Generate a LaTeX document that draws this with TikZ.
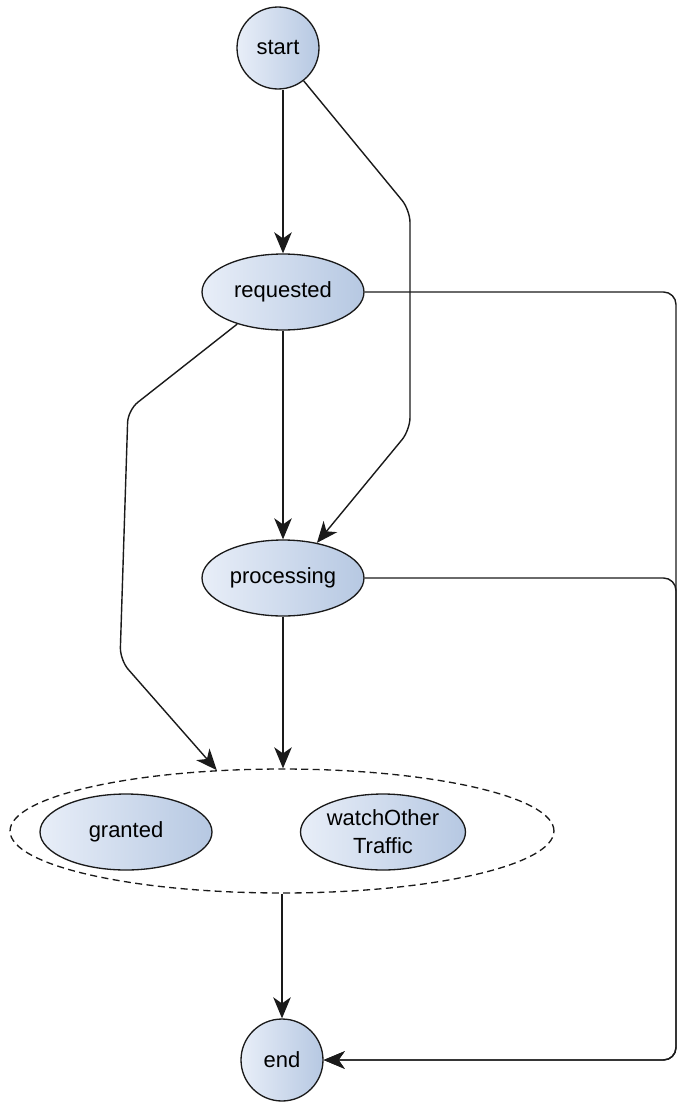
\documentclass[tikz,border=0pt]{standalone}
\usepackage{fontspec}
\setmainfont{Liberation Sans}
\usetikzlibrary{arrows.meta,shapes.geometric}
\definecolor{stlight}{HTML}{E8EEF8}
\definecolor{stdark}{HTML}{B6C8E2}
\definecolor{stline}{HTML}{1A1A1A}

\begin{document}
\begin{tikzpicture}[x=0.02cm,y=-0.02cm,
    state/.style={draw=stline,line width=0.75pt,left color=stlight,right color=stdark,
        font=\fontsize{12.5}{14}\selectfont,inner sep=0pt},
    ring/.style={state,circle,minimum size=1.64cm},
    oval/.style={state,ellipse,minimum width=3.24cm,minimum height=1.52cm},
    group/.style={draw=stline,ellipse,dash pattern=on 4pt off 2.5pt,line width=0.75pt,
        minimum width=10.88cm,minimum height=2.48cm},
    arr/.style={-{Stealth[length=12pt,width=10pt,inset=3.5pt]},draw=stline,line width=0.8pt,
        rounded corners=0.25cm}]
        \useasboundingbox (0,0) rectangle (678,1102);
        % group
        \node[group] (grp) at (282,831) {};
        % states
        \node[ring] (start) at (278,48) {start};
        \node[oval] (req) at (283,292) {requested};
        \node[oval] (proc) at (283,578) {processing};
        \node[oval,minimum width=3.44cm] (granted) at (126,832) {granted};
        \node[oval,minimum width=3.3cm,align=center] (watch) at (383,832) {watchOther\\[2pt]Traffic};
        \node[ring] (end) at (282,1060) {end};
        % bends
        \coordinate (b1) at (410,210);
        \coordinate (b2) at (410,430);
        \coordinate (b3) at (128,410);
        \coordinate (b4) at (120,660);
        \coordinate (r1) at (676,292);
        \coordinate (r2) at (676,578);
        % transitions
        \draw[arr] (start.south -| req.north) -- (req.north);
        \draw[arr] (start.-52) -- (b1) -- (b2) -- (proc.46);
        \draw[arr] (req.south) -- (proc.north);
        \draw[arr] (req.215) -- (b3) -- (b4) -- (grp.137);
        \draw[arr] (proc.south) -- (grp.north -| proc.south);
        \draw[arr] (grp.south -| end.north) -- (end.north);
        \draw[arr] (req.east) -- (r1) |- (end.east);
        \draw[arr] (proc.east) -- (r2) |- (end.east);
    \end{tikzpicture}
\end{document}
